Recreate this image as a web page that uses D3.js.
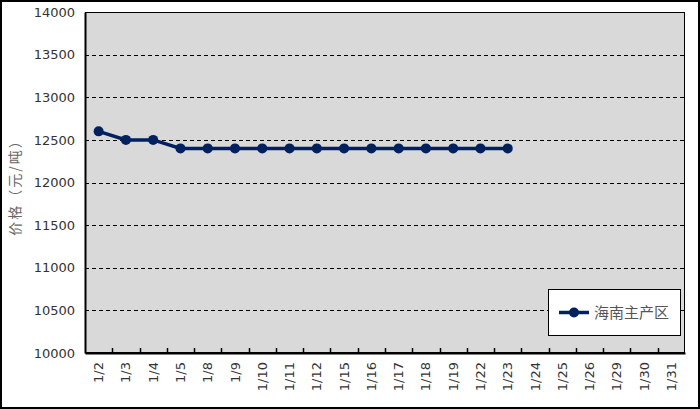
<!DOCTYPE html>
<html><head><meta charset="utf-8">
<script src="https://cdn.jsdelivr.net/npm/d3@7"></script>
<style>
html,body{margin:0;padding:0;background:#fff;}
svg{display:block;}
</style></head>
<body>
<svg id="chart" width="700" height="409"></svg>
<script>
const categories = ["1/2","1/3","1/4","1/5","1/8","1/9","1/10","1/11","1/12","1/15","1/16","1/17","1/18","1/19","1/22","1/23","1/24","1/25","1/26","1/29","1/30","1/31"];
const seriesName = "海南主产区";
const seriesValues = [12600,12500,12500,12400,12400,12400,12400,12400,12400,12400,12400,12400,12400,12400,12400,12400];
const yTicks = [10000,10500,11000,11500,12000,12500,13000,13500,14000];
const yLabel = "价格（元/吨）";

const W = 700, H = 409;
const m = {left:85, right:15, top:12, bottom:56};
const svg = d3.select("#chart");
const font = "'DejaVu Sans', Verdana, sans-serif";

// outer frame
svg.append("rect").attr("x",1).attr("y",1).attr("width",W-2).attr("height",H-2)
  .attr("fill","#fff").attr("stroke","#000").attr("stroke-width",2);

const x = d3.scaleBand().domain(categories).range([m.left, W - m.right]).paddingInner(0).paddingOuter(0);
const y = d3.scaleLinear().domain([10000,14000]).range([H - m.bottom, m.top]);

// plot background
svg.append("rect").attr("x",m.left).attr("y",m.top)
  .attr("width",W-m.right-m.left).attr("height",H-m.bottom-m.top)
  .attr("fill","#d9d9d9");

// gridlines
svg.append("g").selectAll("line").data(yTicks.filter(t=>t>10000 && t<14000)).join("line")
  .attr("x1",m.left).attr("x2",W-m.right)
  .attr("y1",d=>Math.round(y(d))+0.5).attr("y2",d=>Math.round(y(d))+0.5)
  .attr("stroke","#000").attr("stroke-width",1).attr("stroke-dasharray","4,3");

// plot border
svg.append("rect").attr("x",m.left+0.5).attr("y",m.top+0.5)
  .attr("width",W-m.right-m.left-1).attr("height",H-m.bottom-m.top-1)
  .attr("fill","none").attr("stroke","#000").attr("stroke-width",1);

// Y axis
const yAxis = d3.axisLeft(y).tickValues(yTicks).tickSize(0).tickPadding(10).tickFormat(d3.format("d"));
const gy = svg.append("g").attr("transform",`translate(${m.left},0)`).call(yAxis);
gy.select(".domain").attr("stroke","#000").attr("stroke-width",2);
gy.selectAll("text").attr("font-family",font).attr("font-size",13).attr("fill","#333");

// X axis
const xAxis = d3.axisBottom(x).tickSize(0).tickPadding(0);
const gx = svg.append("g").attr("transform",`translate(0,${H-m.bottom})`).call(xAxis);
gx.select(".domain").attr("stroke","#000").attr("stroke-width",2);
gx.selectAll(".tick text")
  .attr("font-family",font).attr("font-size",13).attr("fill","#333")
  .attr("transform","rotate(-90)")
  .attr("text-anchor","end").attr("dy","0.35em").attr("x",-9).attr("y",0);
// tick marks at category boundaries
const bounds = categories.slice(1).map(c => x(c));
svg.append("g").selectAll("line").data(bounds).join("line")
  .attr("x1",d=>Math.round(d)+0.5).attr("x2",d=>Math.round(d)+0.5)
  .attr("y1",H-m.bottom-5).attr("y2",H-m.bottom)
  .attr("stroke","#000").attr("stroke-width",1.5);

// Y label
svg.append("text").attr("transform",`translate(20,184) rotate(-90)`)
  .attr("text-anchor","middle").attr("font-family","'Noto Sans CJK SC', sans-serif")
  .attr("font-size",14).attr("letter-spacing",2).attr("fill","#666").text(yLabel);

// line
const pts = seriesValues.map((v,i)=>({c:categories[i], v}));
const cx = d => x(d.c) + x.bandwidth()/2;
svg.append("path").datum(pts)
  .attr("d", d3.line().x(cx).y(d=>y(d.v)))
  .attr("fill","none").attr("stroke","#002060").attr("stroke-width",3.5);
svg.append("g").selectAll("circle").data(pts).join("circle")
  .attr("cx",cx).attr("cy",d=>y(d.v)).attr("r",5).attr("fill","#002060");

// legend
const lg = svg.append("g").attr("transform","translate(548,289)");
lg.append("rect").attr("x",0.5).attr("y",0.5).attr("width",132).attr("height",46)
  .attr("fill","#fff").attr("stroke","#000").attr("stroke-width",1);
lg.append("line").attr("x1",11).attr("x2",41).attr("y1",23.5).attr("y2",23.5)
  .attr("stroke","#002060").attr("stroke-width",3.5);
lg.append("circle").attr("cx",26).attr("cy",23.5).attr("r",5).attr("fill","#002060");
lg.append("text").attr("x",46).attr("y",23.5).attr("dy","0.35em")
  .attr("font-family","'Noto Sans CJK SC', sans-serif").attr("font-size",15).attr("fill","#555")
  .text(seriesName);
</script>
</body></html>
